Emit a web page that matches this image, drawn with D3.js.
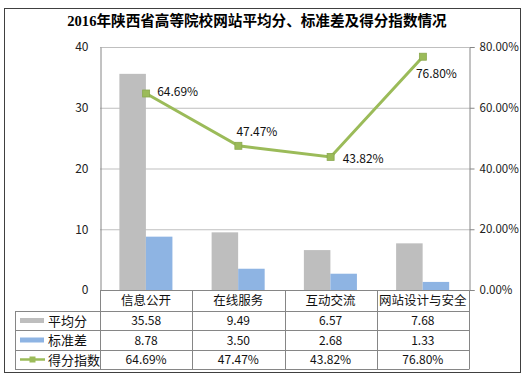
<!DOCTYPE html>
<html><head><meta charset="utf-8">
<script src="https://cdn.jsdelivr.net/npm/d3@7"></script>
<style>
html,body{margin:0;padding:0;background:#fff;}
text{font-family:"Noto Sans CJK SC","Liberation Sans",sans-serif;}
</style></head>
<body><svg id="c" width="527" height="381"></svg>
<script>
const title = "2016年陕西省高等院校网站平均分、标准差及得分指数情况";
const categories = ["信息公开","在线服务","互动交流","网站设计与安全"];
const seriesNames = ["平均分","标准差","得分指数"];
const avgScore = [35.58, 9.49, 6.57, 7.68];
const stdDev = [8.78, 3.50, 2.68, 1.33];
const scoreIndex = [0.6469, 0.4747, 0.4382, 0.7680];
const leftTicks = [0,10,20,30,40];
const rightTicks = [0,0.2,0.4,0.6,0.8];
const colors = {avg:"#BEBEBE", std:"#8EB4E3", idx:"#9BBB59"};

const svg = d3.select("#c");
const L = 100, R = 469, T = 47, B = 290;

// outer border
svg.append("rect").attr("x",4.5).attr("y",8.5).attr("width",516).attr("height",364)
  .attr("fill","#fff").attr("stroke","#404040").attr("stroke-width",1);

svg.append("text").attr("x",257).attr("y",26).attr("text-anchor","middle")
  .style("font-family",'"Liberation Serif","Noto Sans CJK SC",serif')
  .style("font-weight","bold").style("font-size","14.6px").attr("fill","#000").text(title);

const x0 = d3.scaleBand().domain(categories).range([L,R]).padding(0);
const bw = x0.bandwidth();
const x1 = d3.scaleBand().domain(["avg","std"]).range([bw*0.21, bw*0.785]).padding(0);
const yL = d3.scaleLinear().domain([0,40]).range([B,T]);
const yR = d3.scaleLinear().domain([0,0.8]).range([B,T]);

// gridlines
svg.append("g").selectAll("line").data(leftTicks.filter(d=>d>0)).join("line")
  .attr("x1",L).attr("x2",R).attr("y1",d=>yL(d)+0.5).attr("y2",d=>yL(d)+0.5)
  .attr("stroke","#BFBFBF").attr("stroke-width",1);

// left axis
const gl = svg.append("g").attr("transform",`translate(${L+0.5},0)`)
  .call(d3.axisLeft(yL).tickValues(leftTicks).tickSize(0).tickPadding(12));
gl.select(".domain").attr("stroke","#868686");
gl.selectAll("text").style("font-size","12px").attr("fill","#222");

// right axis
const gr = svg.append("g").attr("transform",`translate(${R+0.5},0)`)
  .call(d3.axisRight(yR).tickValues(rightTicks).tickSize(5).tickPadding(5).tickFormat(d3.format(".2%")));
gr.select(".domain").attr("stroke","#868686");
gr.selectAll("line").attr("stroke","#868686");
gr.selectAll("text").style("font-size","11.5px").attr("fill","#222");

// bars
const barData = [];
categories.forEach((c,i)=>{
  barData.push({c, k:"avg", v:avgScore[i]});
  barData.push({c, k:"std", v:stdDev[i]});
});
svg.append("g").selectAll("rect").data(barData).join("rect")
  .attr("x",d=>x0(d.c)+x1(d.k)).attr("width",x1.bandwidth())
  .attr("y",d=>yL(d.v)).attr("height",d=>B-yL(d.v))
  .attr("fill",d=>colors[d.k]);

// line
const cx = c => x0(c)+bw/2;
const pts = categories.map((c,i)=>({c, v:scoreIndex[i]}));
svg.append("path").datum(pts)
  .attr("d", d3.line().x(d=>cx(d.c)).y(d=>yR(d.v)))
  .attr("fill","none").attr("stroke",colors.idx).attr("stroke-width",3);
svg.append("g").selectAll("rect").data(pts).join("rect")
  .attr("x",d=>cx(d.c)-3.5).attr("y",d=>yR(d.v)-3.5).attr("width",7).attr("height",7)
  .attr("fill",colors.idx).attr("stroke","#8AA84E").attr("stroke-width",0.8);

// data labels
const labelOffsets = [[11,-2],[-2,-14],[12,2],[-7,17]];
svg.append("g").selectAll("text").data(pts).join("text")
  .attr("x",(d,i)=>cx(d.c)+labelOffsets[i][0])
  .attr("y",(d,i)=>yR(d.v)+labelOffsets[i][1]+4)
  .style("font-size","12px").attr("fill","#111")
  .text(d=>d3.format(".2%")(d.v));

// x axis baseline
svg.append("line").attr("x1",L).attr("x2",R).attr("y1",B+0.5).attr("y2",B+0.5)
  .attr("stroke","#868686");

// data table
const tblLeft = 15, rows = [290, 311, 330, 350, 369];
const tg = svg.append("g").attr("stroke","#868686").attr("stroke-width",1);
rows.slice(1).forEach(y=>{
  tg.append("line").attr("x1",tblLeft).attr("x2",R).attr("y1",y+0.5).attr("y2",y+0.5);
});
const colEdges = categories.map(c=>x0(c)).concat([R]);
colEdges.forEach(x=>{
  tg.append("line").attr("x1",Math.round(x)+0.5).attr("x2",Math.round(x)+0.5).attr("y1",B).attr("y2",rows[4]+0.5);
});
tg.append("line").attr("x1",tblLeft+0.5).attr("x2",tblLeft+0.5).attr("y1",rows[1]).attr("y2",rows[4]+0.5);

// header
svg.append("g").selectAll("text").data(categories).join("text")
  .attr("x",d=>cx(d)).attr("y",(rows[0]+rows[1])/2+4.5).attr("text-anchor","middle")
  .style("font-size","12.5px").attr("fill","#111").text(d=>d);

const tableRows = [
  avgScore.map(v=>d3.format(".2f")(v)),
  stdDev.map(v=>d3.format(".2f")(v)),
  scoreIndex.map(v=>d3.format(".2%")(v))
];
tableRows.forEach((r,ri)=>{
  const yc = (rows[ri+1]+rows[ri+2])/2;
  svg.append("g").selectAll("text").data(r).join("text")
    .attr("x",(d,i)=>cx(categories[i])).attr("y",yc+4.5).attr("text-anchor","middle")
    .style("font-size","12px").attr("fill","#111").text(d=>d);
  if (ri<2) {
    svg.append("rect").attr("x",20).attr("y",yc-2.5).attr("width",24).attr("height",5)
      .attr("fill", ri===0?colors.avg:colors.std);
  } else {
    svg.append("line").attr("x1",20).attr("x2",45).attr("y1",yc).attr("y2",yc)
      .attr("stroke",colors.idx).attr("stroke-width",2.5);
    svg.append("rect").attr("x",29.5).attr("y",yc-3).attr("width",6).attr("height",6)
      .attr("fill",colors.idx);
  }
  svg.append("text").attr("x",48).attr("y",yc+5).style("font-size","13px")
    .attr("fill","#111").text(seriesNames[ri]);
});
</script></body></html>
